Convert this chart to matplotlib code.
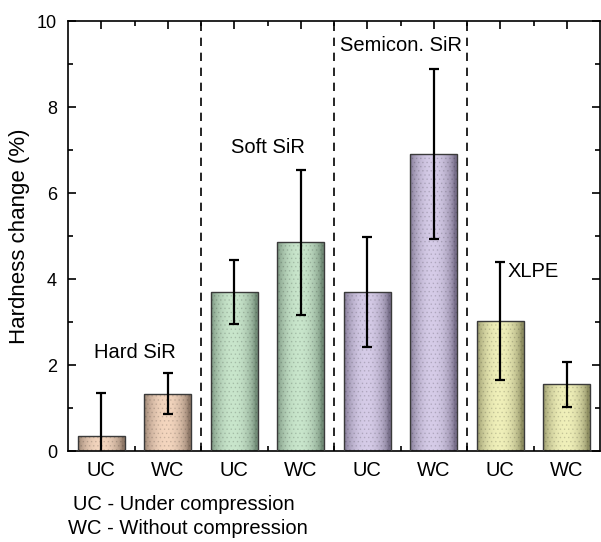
import numpy as np
import matplotlib.pyplot as plt
from matplotlib.patches import Rectangle
from matplotlib.ticker import MultipleLocator

plt.rcParams['font.family'] = ['Liberation Sans', 'DejaVu Sans']
plt.rcParams['hatch.linewidth'] = 0.6

# data
tick_labels = ['UC', 'WC', 'UC', 'WC', 'UC', 'WC', 'UC', 'WC']
values = [0.35, 1.33, 3.70, 4.85, 3.70, 6.90, 3.02, 1.55]
errors = [1.00, 0.48, 0.74, 1.69, 1.27, 1.98, 1.38, 0.52]
groups = ['Hard SiR', 'Soft SiR', 'Semicon. SiR', 'XLPE']
group_label_y = [2.3, 7.05, 9.42, 4.18]
centre_cols = ['#f4d6bf', '#c9e6cc', '#d6cce8', '#f0f0ba']
edge_cols = ['#8e7868', '#728c77', '#786f8a', '#8e8e62']

fig = plt.figure(figsize=(6.01, 5.42), dpi=100)
ax = fig.add_axes([68 / 601, 91 / 542, 532 / 601, 430 / 542])

x = np.arange(1, len(values) + 1)
width = 0.7

# cylinder-like horizontal shading
t = np.linspace(0, 1, 64)
prof = np.sin(np.pi * np.clip(t * 1.05, 0, 1)) ** 0.6

for i, (xi, v) in enumerate(zip(x, values)):
    g = i // 2
    c0 = np.array(plt.matplotlib.colors.to_rgb(edge_cols[g]))
    c1 = np.array(plt.matplotlib.colors.to_rgb(centre_cols[g]))
    img = c0[None, None, :] + (c1 - c0)[None, None, :] * prof[None, :, None]
    rect = Rectangle((xi - width / 2, 0), width, v, facecolor='none',
                     edgecolor='#3a3a3a', lw=1.0, zorder=3)
    ax.add_patch(rect)
    im = ax.imshow(img, extent=(xi - width / 2, xi + width / 2, 0, v),
                   aspect='auto', zorder=2, interpolation='bilinear')
    im.set_clip_path(rect)
    # light speckle texture
    ax.add_patch(Rectangle((xi - width / 2, 0), width, v, fill=False, hatch='....',
                           edgecolor=(0, 0, 0, 0.12), lw=0, zorder=2.5))

ax.errorbar(x, values, yerr=errors, fmt='none', ecolor='black', elinewidth=1.6,
            capsize=3.8, capthick=1.6, zorder=4)

for xd in [2.5, 4.5, 6.5]:
    ax.axvline(xd, color='black', lw=1.2, ls=(0, (5, 4)), zorder=1)

for g, name in enumerate(groups):
    ax.text(2 * g + 1.5, group_label_y[g], name, ha='center', va='center', fontsize=14.5)

ax.set_xlim(0.5, 8.5)
ax.set_ylim(0, 10)
ax.set_xticks(x)
ax.set_xticklabels(tick_labels, fontsize=14.5)
ax.set_xticks(np.arange(1.5, 8.5, 1), minor=True)
ax.yaxis.set_major_locator(MultipleLocator(2))
ax.yaxis.set_minor_locator(MultipleLocator(1))
ax.tick_params(axis='both', which='both', direction='in', top=True, right=True, width=1.2)
ax.tick_params(axis='both', which='major', length=6)
ax.tick_params(axis='both', which='minor', length=3.5)
ax.tick_params(axis='y', labelsize=13, pad=8)
ax.tick_params(axis='x', pad=7)
for s in ax.spines.values():
    s.set_linewidth(1.2)
ax.set_ylabel('Hardness change (%)', fontsize=16, labelpad=5)

fig.text(73 / 601, 1 - 505 / 542, 'UC - Under compression', fontsize=14.5, va='center')
fig.text(68 / 601, 1 - 528 / 542, 'WC - Without compression', fontsize=14.5, va='center')

fig.savefig('out.png', dpi=100)
